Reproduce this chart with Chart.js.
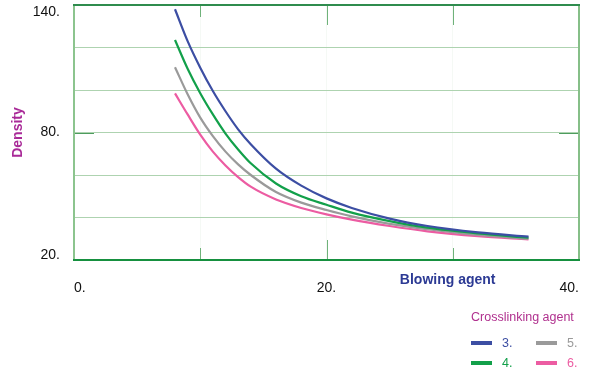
<!DOCTYPE html>
<html>
<head>
<meta charset="utf-8">
<script src="https://cdn.jsdelivr.net/npm/chart.js@4/dist/chart.umd.min.js"></script>
<style>
  html, body { margin: 0; padding: 0; background: #fff; }
  #wrap { width: 600px; height: 379px; position: relative; }
</style>
</head>
<body>
<div id="wrap"><canvas id="c" width="600" height="379"></canvas></div>
<script>
// ---- data ----
const blowingAgent = [8, 9, 10, 11, 12, 13, 14, 16, 18, 20, 22, 25, 28, 32, 36];
const density3 = [138, 123, 110.5, 99.5, 90, 81.5, 74.5, 63, 55, 49, 44.5, 39.5, 36, 33, 31];
const density4 = [123.5, 110, 98.5, 88.5, 79.5, 72, 65.5, 56, 50, 46, 42.3, 38.3, 35.2, 32.5, 30.5];
const density5 = [110.7, 98, 87, 78.3, 71, 65, 60, 52, 47, 43.5, 40.5, 37, 34.5, 31.8, 30];
const density6 = [98.4, 88.5, 79, 71, 64.5, 59, 54.5, 48.5, 44.5, 41.5, 39, 36, 33.5, 31.2, 29.7];
const seriesLabels = ['3.', '4.', '5.', '6.'];
const seriesColors = ['#3c4ea3', '#12a04a', '#9a9a9a', '#ec5ca2'];
const yTickLabels = [20, 80, 140];
const xTickLabels = [0, 20, 40];

const FONT = '"Liberation Sans", Arial, Helvetica, sans-serif';

function pts(ys) { return blowingAgent.map((x, i) => ({x, y: ys[i]})); }
const allSeries = [density3, density4, density5, density6];

const decor = {
  id: 'decor',
  afterDatasetsDraw(chart) {
    const ctx = chart.ctx;
    const a = chart.chartArea;
    const xs = chart.scales.x, ys = chart.scales.y;
    ctx.save();
    // inner tick marks on x
    ctx.strokeStyle = '#6fb27a';
    ctx.lineWidth = 1;
    const xTicks = [[10, 12, 12], [20, 20, 20], [30, 20, 12]];
    xTicks.forEach(([v, topLen, botLen]) => {
      const px = Math.round(xs.getPixelForValue(v)) + 0.5;
      ctx.beginPath();
      ctx.moveTo(px, a.top); ctx.lineTo(px, a.top + topLen);
      ctx.moveTo(px, a.bottom); ctx.lineTo(px, a.bottom - botLen);
      ctx.stroke();
    });
    // stubs at y = 80
    const py80 = Math.round(ys.getPixelForValue(80)) + 0.5;
    ctx.strokeStyle = '#4e9c5e';
    ctx.beginPath();
    ctx.moveTo(a.left, py80); ctx.lineTo(a.left + 20, py80);
    ctx.moveTo(a.right, py80); ctx.lineTo(a.right - 20, py80);
    ctx.stroke();
    // frame
    ctx.lineWidth = 2;
    ctx.strokeStyle = '#8cc48e';
    ctx.beginPath(); ctx.moveTo(a.left, a.top); ctx.lineTo(a.left, a.bottom); ctx.stroke();
    ctx.strokeStyle = '#86bf88';
    ctx.beginPath(); ctx.moveTo(a.right, a.top); ctx.lineTo(a.right, a.bottom); ctx.stroke();
    ctx.strokeStyle = '#2f8c4e';
    ctx.beginPath(); ctx.moveTo(a.left - 1, a.top); ctx.lineTo(a.right + 1, a.top); ctx.stroke();
    ctx.strokeStyle = '#16903f';
    ctx.beginPath(); ctx.moveTo(a.left - 1, a.bottom); ctx.lineTo(a.right + 1, a.bottom); ctx.stroke();

    // y tick labels
    ctx.fillStyle = '#111';
    ctx.font = '14px ' + FONT;
    ctx.textAlign = 'right';
    ctx.textBaseline = 'middle';
    yTickLabels.forEach((v, i) => {
      let py = ys.getPixelForValue(v);
      if (i === yTickLabels.length - 1) py += 7;
      if (i === 0) py -= 5;
      ctx.fillText(v + '.', a.left - 14, py);
    });

    // x axis title
    ctx.fillStyle = '#2c3a94';
    ctx.font = 'bold 14px ' + FONT;
    ctx.textAlign = 'center';
    ctx.fillText('Blowing agent', a.left + (a.right - a.left) * 0.74, a.bottom + 20);

    // legend
    ctx.textAlign = 'left';
    ctx.font = '12.5px ' + FONT;
    ctx.fillStyle = '#b0308e';
    ctx.fillText('Crosslinking agent', 471, 318);
    const cells = [[0, 471, 343], [1, 471, 363], [2, 536, 343], [3, 536, 363]];
    cells.forEach(([i, x, y]) => {
      const ds = chart.data.datasets[i];
      ctx.strokeStyle = ds.borderColor;
      ctx.lineWidth = 4;
      ctx.beginPath(); ctx.moveTo(x, y); ctx.lineTo(x + 21, y); ctx.stroke();
      ctx.fillStyle = ds.borderColor;
      ctx.fillText(ds.label, x + 31, y + 1);
    });
    ctx.restore();
  }
};

new Chart(document.getElementById('c'), {
  type: 'line',
  data: {
    datasets: allSeries.map((s, i) => ({
      label: seriesLabels[i],
      data: pts(s),
      borderColor: seriesColors[i],
      backgroundColor: seriesColors[i],
      borderWidth: 2.2,
      pointRadius: 0,
      fill: false,
      cubicInterpolationMode: 'monotone'
    }))
  },
  options: {
    responsive: false,
    animation: false,
    devicePixelRatio: 1,
    layout: { padding: { top: 5, right: 21, bottom: 79, left: 0 } },
    plugins: { legend: { display: false }, tooltip: { enabled: false } },
    scales: {
      x: {
        type: 'linear',
        min: 0, max: 40,
        afterFit(scale) { scale.height = 40; },
        ticks: {
          stepSize: 10,
          align: 'inner',
          padding: 20,
          color: '#111',
          font: { family: FONT, size: 14 },
          maxRotation: 0,
          callback: (v) => xTickLabels.includes(v) ? v + '.' : ''
        },
        grid: { color: 'rgba(120,170,120,0.07)', drawTicks: false },
        border: { display: false }
      },
      y: {
        min: 20, max: 140,
        afterFit(scale) { scale.width = 74; },
        ticks: { stepSize: 20, display: false },
        grid: { color: '#aed3b0', drawTicks: false },
        border: { display: false },
        title: {
          display: true,
          text: 'Density',
          color: '#a92a98',
          font: { family: FONT, size: 14, weight: 'bold' },
          padding: { top: 10, bottom: 0 }
        }
      }
    }
  },
  plugins: [decor]
});
</script>
</body>
</html>
